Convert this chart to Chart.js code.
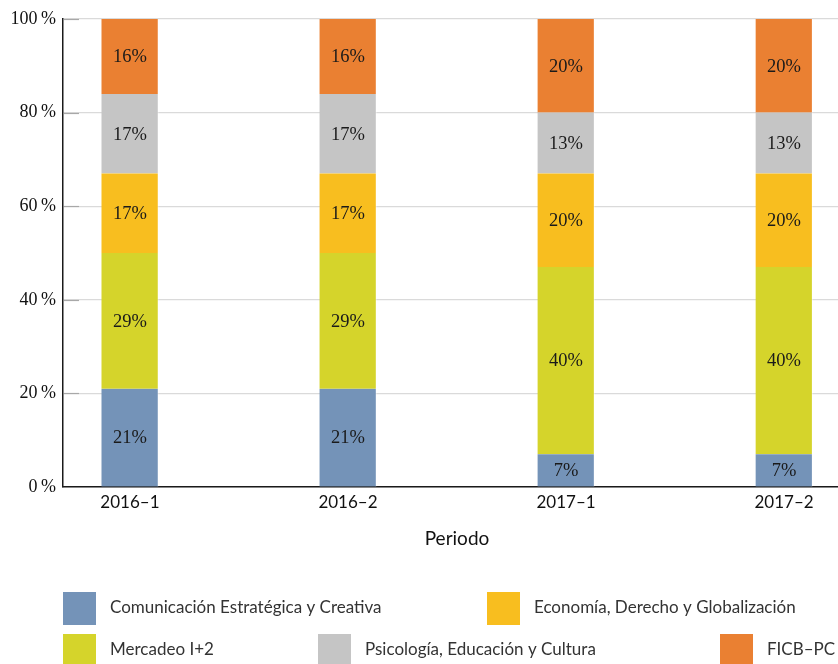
<!DOCTYPE html>
<html>
<head>
<meta charset="utf-8">
<script src="https://cdn.jsdelivr.net/npm/chart.js@4/dist/chart.umd.min.js"></script>
<style>
  html, body { margin: 0; padding: 0; background: #fff; }
  #frame { width: 838px; height: 664px; overflow: hidden; position: relative; }
  #c { display: block; }
</style>
</head>
<body>
<div id="frame"><canvas id="c" width="900" height="664"></canvas></div>
<script>
// Periods on the horizontal axis
const periods = ['2016–1', '2016–2', '2017–1', '2017–2'];

// Share of each programme per period (%)
const comunicacion = [21, 21, 7, 7];
const mercadeo     = [29, 29, 40, 40];
const economia     = [17, 17, 20, 20];
const psicologia   = [17, 17, 13, 13];
const ficb         = [16, 16, 20, 20];

// Y axis ticks (%)
const yTicks = [0, 20, 40, 60, 80, 100];

const seriesNames = [
  'Comunicación Estratégica y Creativa',
  'Mercadeo I+2',
  'Economía, Derecho y Globalización',
  'Psicología, Educación y Cultura',
  'FICB–PC'
];
const seriesValues = [comunicacion, mercadeo, economia, psicologia, ficb];
const seriesColors = ['#7493B8', '#D5D42B', '#F8BE1F', '#C5C5C5', '#EA8032'];

const SANS = 'Lato, "Noto Sans", sans-serif';
const SERIF = '"Liberation Serif", "DejaVu Serif", serif';

const datasets = seriesValues.map((vals, k) => ({
  label: seriesNames[k],
  data: vals.map((v, i) => ({ x: i, y: v })),
  backgroundColor: seriesColors[k],
  borderColor: 'rgba(255,255,255,0.45)',
  borderWidth: { right: 1 },
  borderSkipped: false,
  barThickness: 57
}));

// Percentage labels in the middle of each segment
const segmentLabels = {
  id: 'segmentLabels',
  afterDatasetsDraw(chart) {
    const ctx = chart.ctx;
    ctx.save();
    ctx.font = '18.5px ' + SERIF;
    ctx.fillStyle = '#1a1a1a';
    ctx.textAlign = 'center';
    ctx.textBaseline = 'middle';
    chart.data.datasets.forEach((ds, k) => {
      const meta = chart.getDatasetMeta(k);
      meta.data.forEach((bar, i) => {
        const v = ds.data[i].y;
        const yMid = (bar.y + bar.base) / 2;
        ctx.fillText(v + '%', bar.x, yMid + 1);
      });
    });
    ctx.restore();
  }
};

// Short inner tick marks on the value axis
const innerTicks = {
  id: 'innerTicks',
  afterDraw(chart) {
    const ctx = chart.ctx;
    const y = chart.scales.y;
    const left = chart.chartArea.left;
    ctx.save();
    ctx.strokeStyle = '#a8a8a8';
    ctx.lineWidth = 1.2;
    yTicks.forEach(t => {
      if (t === 0) return;
      const py = Math.round(y.getPixelForValue(t)) + 0.5;
      ctx.beginPath();
      ctx.moveTo(left + 1, py);
      ctx.lineTo(left + 16, py);
      ctx.stroke();
    });
    ctx.restore();
  }
};

// Axis title and legend below the plot
const legendBelow = {
  id: 'legendBelow',
  afterDraw(chart) {
    const ctx = chart.ctx;
    const area = chart.chartArea;
    ctx.save();
    ctx.fillStyle = '#111';
    ctx.font = '19px ' + SANS;
    ctx.textAlign = 'center';
    ctx.textBaseline = 'middle';
    ctx.fillText('Periodo', (area.left + area.right) / 2, 539);

    const slots = [
      { x: 63, y: 592 },
      { x: 63, y: 634 },
      { x: 487, y: 592 },
      { x: 318, y: 634 },
      { x: 720, y: 634 }
    ];
    ctx.font = '17px ' + SANS;
    ctx.textAlign = 'left';
    chart.data.datasets.forEach((ds, k) => {
      const s = slots[k];
      ctx.fillStyle = ds.backgroundColor;
      ctx.fillRect(s.x, s.y, 33, 33);
      ctx.fillStyle = '#333';
      ctx.fillText(ds.label, s.x + 47, s.y + 16);
    });
    ctx.restore();
  }
};

new Chart(document.getElementById('c'), {
  type: 'bar',
  data: { datasets },
  plugins: [segmentLabels, innerTicks, legendBelow],
  options: {
    responsive: false,
    devicePixelRatio: 1,
    animation: false,
    layout: { padding: { top: 19, right: 49, bottom: 0, left: 0 } },
    plugins: {
      legend: { display: false },
      tooltip: { enabled: false }
    },
    scales: {
      x: {
        type: 'linear',
        stacked: true,
        offset: false,
        min: -0.307,
        max: 3.307,
        afterBuildTicks(scale) {
          scale.ticks = periods.map((_, i) => ({ value: i }));
        },
        afterFit(scale) { scale.height = 177; },
        grid: { display: false, drawTicks: false },
        border: { color: '#1a1a1a', width: 1.5 },
        ticks: {
          autoSkip: false,
          maxRotation: 0,
          padding: 5,
          color: '#111',
          font: { family: SANS, size: 17 },
          callback: v => periods[v] ?? ''
        }
      },
      y: {
        stacked: true,
        min: 0,
        max: 100,
        afterBuildTicks(scale) {
          scale.ticks = yTicks.map(v => ({ value: v }));
        },
        afterFit(scale) { scale.width = 63; },
        grid: { color: '#dadada', lineWidth: 1.2, drawTicks: false },
        border: { color: '#1a1a1a', width: 1.5 },
        ticks: {
          padding: 7,
          color: '#111',
          font: { family: SERIF, size: 18 },
          callback: v => v + '\u2009%'
        }
      }
    }
  }
});
</script>
</body>
</html>
